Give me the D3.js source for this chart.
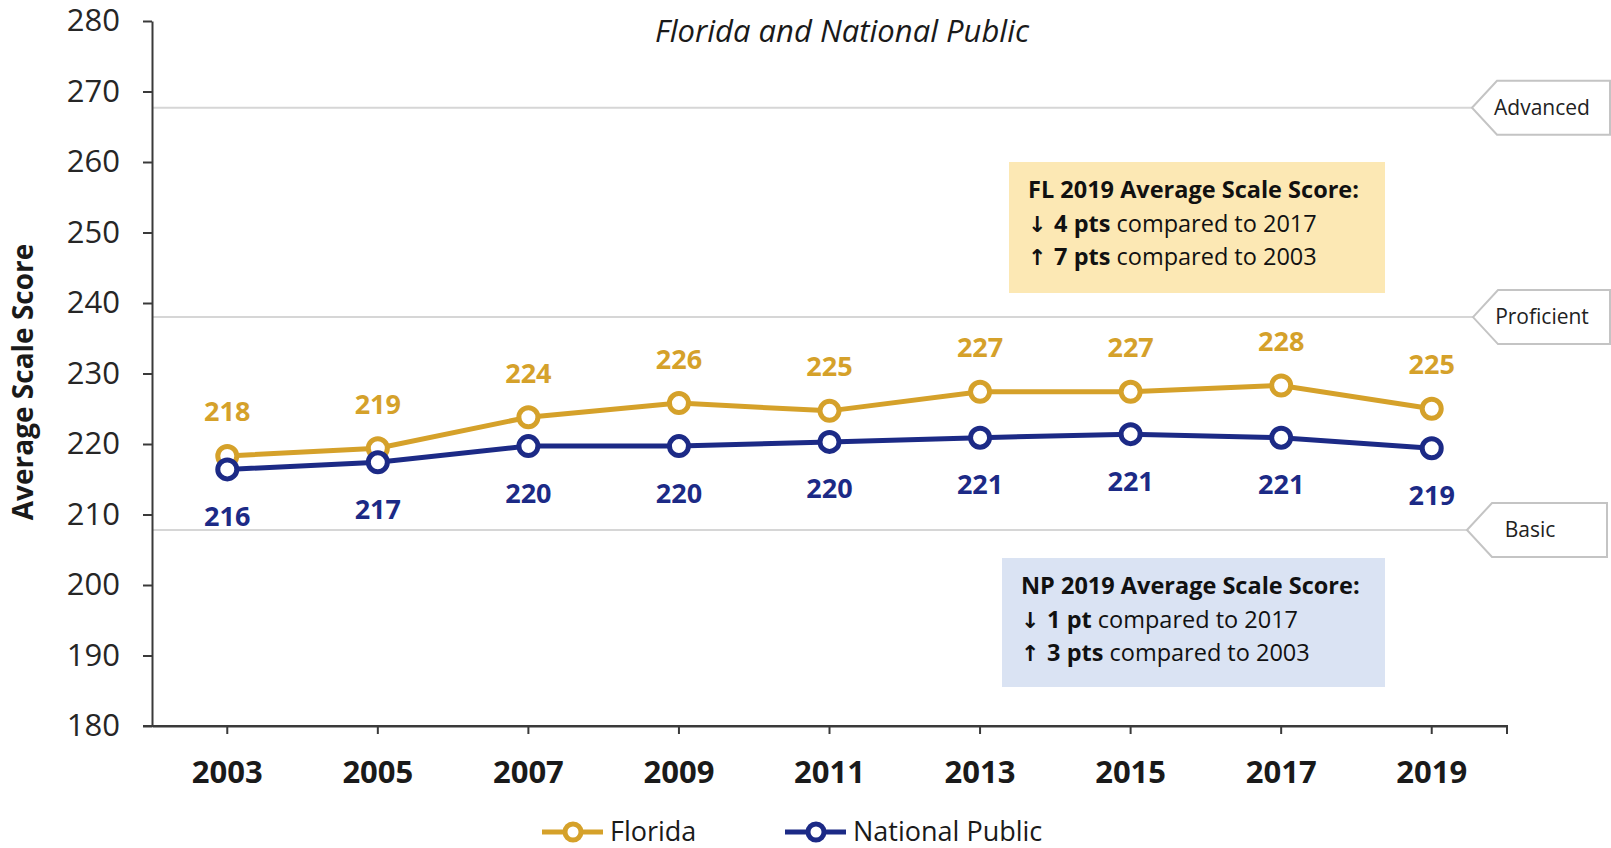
<!DOCTYPE html>
<html>
<head>
<meta charset="utf-8">
<script src="https://cdn.jsdelivr.net/npm/d3@7"></script>
<style>
  body { margin: 0; background: #fff; }
  svg { display: block; font-family: "Open Sans", sans-serif; }
</style>
</head>
<body>
<div id="chart"></div>
<script>
// --------------------------------------
//  Data
// --------------------------------------

const years = ["2003", "2005", "2007", "2009", "2011", "2013", "2015", "2017", "2019"];
const floridaScores = [218.3, 219.4, 223.8, 225.8, 224.7, 227.4, 227.4, 228.3, 225.0];
const nationalScores = [216.4, 217.4, 219.7, 219.7, 220.3, 220.9, 221.4, 220.9, 219.4];
const yTicks = [180, 190, 200, 210, 220, 230, 240, 250, 260, 270, 280];
const levelNames = ["Advanced", "Proficient", "Basic"];
const levelCuts = [267.7, 238, 207.8];

const flNote = [["", "FL 2019 Average Scale Score:", ""], ["\u2193", "4 pts", " compared to 2017"], ["\u2191", "7 pts", " compared to 2003"]];
const npNote = [["", "NP 2019 Average Scale Score:", ""], ["\u2193", "1 pt", " compared to 2017"], ["\u2191", "3 pts", " compared to 2003"]];

// --------------------------------------
//  Canvas
// --------------------------------------

const width = 1611;
const height = 848;
const margin = {top: 21, right: 104, bottom: 122, left: 152};

const gold = "#D5A12A";
const navy = "#1C2A86";
const axisColor = "#3a3a3a";

const svg = d3.select("#chart")
  .append("svg")
    .attr("width", width)
    .attr("height", height);

// --------------------------------------
//  Scales
// --------------------------------------

let x = d3.scaleBand()
    .domain(years)
    .range([margin.left, width - margin.right])
    .padding(0);

let y = d3.scaleLinear()
    .domain([180, 280])
    .range([height - margin.bottom, margin.top]);

const cx = d => x(d) + x.bandwidth() / 2;

// --------------------------------------
//  Level reference lines + tags
// --------------------------------------

const tagPoint = [1472, 1473, 1467];
const tagRight = [1610, 1610, 1607];
const tagText = [1542, 1542, 1530];

levelCuts.forEach((v, i) => {
  svg.append("line")
      .attr("x1", margin.left)
      .attr("x2", tagPoint[i])
      .attr("y1", y(v))
      .attr("y2", y(v))
      .attr("stroke", "#d6d6d6")
      .attr("stroke-width", 2);

  const yy = y(v), h = 27, tip = 25;
  svg.append("path")
      .attr("d", `M${tagPoint[i]},${yy} L${tagPoint[i] + tip},${yy - h} L${tagRight[i]},${yy - h} L${tagRight[i]},${yy + h} L${tagPoint[i] + tip},${yy + h} Z`)
      .attr("fill", "#fff")
      .attr("stroke", "#c4c4c4")
      .attr("stroke-width", 2);

  svg.append("text")
      .attr("x", tagText[i])
      .attr("y", yy)
      .attr("dy", "0.35em")
      .attr("text-anchor", "middle")
      .attr("font-size", 21)
      .attr("fill", "#222")
      .text(levelNames[i]);
});

// --------------------------------------
//  Axes
// --------------------------------------

const yAxis = svg.append("g")
    .attr("transform", `translate(${margin.left}, 0)`)
    .call(d3.axisLeft(y)
        .tickValues(yTicks)
        .tickSize(9)
        .tickSizeOuter(0)
        .tickPadding(23));

yAxis.selectAll("text")
    .attr("font-size", 31)
    .attr("fill", "#262626")
    .attr("font-family", "Open Sans, sans-serif");

const xAxis = svg.append("g")
    .attr("transform", `translate(0, ${y(180)})`)
    .call(d3.axisBottom(x)
        .tickSize(8)
        .tickSizeOuter(0)
        .tickPadding(27));

xAxis.selectAll("text")
    .attr("font-size", 31)
    .attr("font-weight", "bold")
    .attr("fill", "#1a1a1a")
    .attr("font-family", "Open Sans, sans-serif");

// extend x baseline to the left tick and close with end tick
xAxis.append("path")
    .attr("d", `M${margin.left - 9},0 H${x.range()[1]} V8`)
    .attr("fill", "none")
    .attr("stroke", axisColor)
    .attr("stroke-width", 2);

svg.selectAll(".domain, .tick line")
    .attr("stroke", axisColor)
    .attr("stroke-width", 2);

svg.append("text")
    .attr("transform", `translate(23, ${y(228.8)}) rotate(-90)`)
    .attr("text-anchor", "middle")
    .attr("dy", "0.35em")
    .attr("font-size", 28)
    .attr("font-weight", "bold")
    .attr("fill", "#1a1a1a")
    .text("Average Scale Score");

// --------------------------------------
//  Subtitle
// --------------------------------------

svg.append("text")
    .attr("x", 842)
    .attr("y", 31)
    .attr("dy", "0.35em")
    .attr("text-anchor", "middle")
    .attr("font-size", 31)
    .attr("font-style", "italic")
    .attr("fill", "#1a1a1a")
    .text("Florida and National Public");

// --------------------------------------
//  Note boxes
// --------------------------------------

function noteBox(lines, bx, by, bw, bh, fill) {
  svg.append("rect")
      .attr("x", bx).attr("y", by)
      .attr("width", bw).attr("height", bh)
      .attr("fill", fill);
  lines.forEach((l, i) => {
    const t = svg.append("text")
        .attr("x", bx + 19)
        .attr("y", by + 28 + i * 33.5)
        .attr("dy", "0.35em")
        .attr("font-size", 23.5)
        .attr("fill", "#111");
    if (l[0]) {
      t.append("tspan")
          .attr("font-family", "DejaVu Sans, sans-serif")
          .attr("font-weight", "bold")
          .attr("font-size", 22)
          .text(l[0] + " ");
    }
    t.append("tspan").attr("font-weight", "bold").text(l[1]);
    t.append("tspan").text(l[2]);
  });
}

noteBox(flNote, 1009, 162, 376, 131, "#FCE8B4");
noteBox(npNote, 1002, 558, 383, 129, "#DAE3F3");

// --------------------------------------
//  Lines, points, labels
// --------------------------------------

const series = [
  {name: "Florida", values: floridaScores, color: gold, off: -44},
  {name: "National Public", values: nationalScores, color: navy, off: 47}
];

const line = d3.line()
    .x((d, i) => cx(years[i]))
    .y(d => y(d));

series.forEach(s => {
  svg.append("path")
      .datum(s.values)
      .attr("d", line)
      .attr("fill", "none")
      .attr("stroke", s.color)
      .attr("stroke-width", 5);

  svg.selectAll(null)
      .data(s.values)
      .join("circle")
      .attr("cx", (d, i) => cx(years[i]))
      .attr("cy", d => y(d))
      .attr("r", 9.5)
      .attr("fill", "#fff")
      .attr("stroke", s.color)
      .attr("stroke-width", 5);

  svg.selectAll(null)
      .data(s.values)
      .join("text")
      .attr("x", (d, i) => cx(years[i]))
      .attr("y", d => y(d) + s.off)
      .attr("dy", "0.35em")
      .attr("text-anchor", "middle")
      .attr("font-size", 27)
      .attr("font-weight", "bold")
      .attr("fill", s.color)
      .text(d => Math.round(d));
});

// --------------------------------------
//  Legend
// --------------------------------------

const legendX = [542, 785];
series.forEach((s, i) => {
  const g = svg.append("g").attr("transform", `translate(${legendX[i]}, 832)`);
  g.append("line")
      .attr("x1", 0).attr("x2", 61)
      .attr("stroke", s.color)
      .attr("stroke-width", 5);
  g.append("circle")
      .attr("cx", 31)
      .attr("r", 8)
      .attr("fill", "#fff")
      .attr("stroke", s.color)
      .attr("stroke-width", 5);
  g.append("text")
      .attr("x", 68)
      .attr("dy", "0.35em")
      .attr("font-size", 27)
      .attr("fill", "#1a1a1a")
      .text(s.name);
});
</script>
</body>
</html>
